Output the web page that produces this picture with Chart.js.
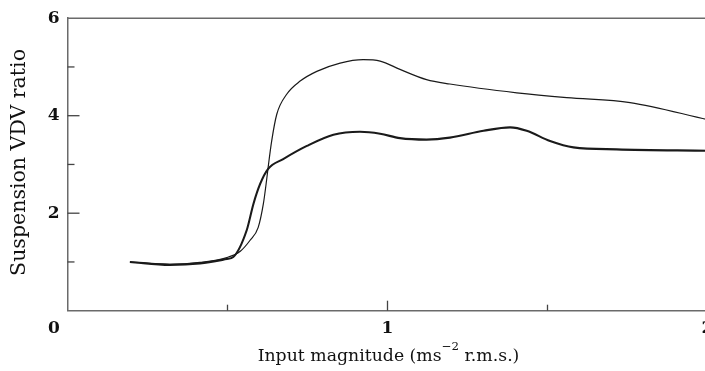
<!DOCTYPE html>
<html><head><meta charset="utf-8">
<script src="https://cdn.jsdelivr.net/npm/chart.js@4/dist/chart.umd.min.js"></script>
<style>html,body{margin:0;padding:0;overflow:hidden;background:#fff;width:705px;height:371px}</style>
</head><body>
<canvas id="c" width="730" height="371"></canvas>
<script>
// Thin curve
const thinX = [0.195, 0.32, 0.414, 0.498, 0.54, 0.57, 0.596, 0.612, 0.622, 0.627, 0.638, 0.654, 0.685, 0.727, 0.779, 0.852, 0.924, 0.977, 1.039, 1.122, 1.195, 1.404, 1.56, 1.758, 2.0];
const thinY = [1.00, 0.95, 0.99, 1.09, 1.22, 1.44, 1.71, 2.19, 2.67, 2.94, 3.48, 4.03, 4.44, 4.71, 4.91, 5.08, 5.15, 5.12, 4.95, 4.74, 4.65, 4.47, 4.37, 4.27, 3.92];
// Thick curve
const thickX = [0.195, 0.32, 0.414, 0.498, 0.518, 0.56, 0.581, 0.602, 0.627, 0.674, 0.748, 0.831, 0.914, 0.977, 1.039, 1.122, 1.195, 1.30, 1.383, 1.435, 1.508, 1.581, 1.716, 2.0];
const thickY = [1.00, 0.94, 0.97, 1.06, 1.10, 1.65, 2.19, 2.60, 2.91, 3.11, 3.38, 3.61, 3.67, 3.63, 3.54, 3.51, 3.55, 3.69, 3.76, 3.69, 3.48, 3.35, 3.31, 3.28];

const xLabelledTicks = [1, 2];
const yLabelledTicks = [2, 4, 6];
const xMajorTicks = [1];
const xMinorTicks = [0.5, 1.5];
const yMajorTicks = [2, 4];
const yMinorTicks = [1, 3, 5];
const cornerLabel = '0';
const xTitleParts = ['Input magnitude (ms', '\u22122', ' r.m.s.)'];
const yTitle = 'Suspension VDV ratio';

const TICK_FONT = '"DejaVu Serif", "Liberation Serif", serif';
const TITLE_FONT = '"DejaVu Serif", "Liberation Serif", serif';
const AXIS_COLOR = '#6a6a6a';

// choose title font sizes so the text spans the same length as in the reference
const mctx = document.createElement('canvas').getContext('2d');
function widthAt(size, parts) {
  let w = 0;
  parts.forEach((t, i) => { mctx.font = (i === 1 && parts.length === 3 ? size * 0.68 : size) + 'px ' + TITLE_FONT; w += mctx.measureText(t).width; });
  return w;
}
const yTitleSize = 20 * 227 / widthAt(20, [yTitle]);
const xTitleSize = 20 * 262 / widthAt(20, xTitleParts);

const toPts = (xs, ys) => xs.map((x, i) => ({x: x, y: ys[i]}));

const decor = {
  id: 'decor',
  afterDraw(chart) {
    const ctx = chart.ctx, a = chart.chartArea;
    const xs = chart.scales.x, ys = chart.scales.y;
    ctx.save();
    ctx.strokeStyle = AXIS_COLOR;
    ctx.lineWidth = 1.5;
    ctx.beginPath(); ctx.moveTo(a.left, a.top); ctx.lineTo(a.right + 5, a.top); ctx.stroke();
    ctx.strokeStyle = '#444';
    ctx.lineWidth = 1.3;
    const yAxisX = a.left, xAxisY = a.bottom;
    yMajorTicks.forEach(v => { const p = ys.getPixelForValue(v); ctx.beginPath(); ctx.moveTo(yAxisX, p); ctx.lineTo(yAxisX + 12, p); ctx.stroke(); });
    yMinorTicks.forEach(v => { const p = ys.getPixelForValue(v); ctx.beginPath(); ctx.moveTo(yAxisX, p); ctx.lineTo(yAxisX + 7, p); ctx.stroke(); });
    xMajorTicks.forEach(v => { const p = xs.getPixelForValue(v); ctx.beginPath(); ctx.moveTo(p, xAxisY); ctx.lineTo(p, xAxisY - 10); ctx.stroke(); });
    xMinorTicks.forEach(v => { const p = xs.getPixelForValue(v); ctx.beginPath(); ctx.moveTo(p, xAxisY); ctx.lineTo(p, xAxisY - 6); ctx.stroke(); });
    ctx.fillStyle = '#111';
    ctx.font = 'bold 17px ' + TICK_FONT;
    ctx.textAlign = 'center'; ctx.textBaseline = 'middle';
    ctx.fillText(cornerLabel, a.left - 13.5, xAxisY + 18);
    // y title (rotated)
    ctx.save();
    ctx.font = yTitleSize + 'px ' + TITLE_FONT;
    ctx.translate(25, (a.top + a.bottom) / 2 - 2);
    ctx.rotate(-Math.PI / 2);
    ctx.textAlign = 'center'; ctx.textBaseline = 'alphabetic';
    ctx.fillText(yTitle, 0, 0);
    ctx.restore();
    // x title with superscript
    const mainFont = xTitleSize + 'px ' + TITLE_FONT, supFont = (xTitleSize * 0.68) + 'px ' + TITLE_FONT;
    ctx.font = mainFont; const w1 = ctx.measureText(xTitleParts[0]).width;
    ctx.font = supFont; const w2 = ctx.measureText(xTitleParts[1]).width;
    ctx.font = mainFont; const w3 = ctx.measureText(xTitleParts[2]).width;
    const cx = (a.left + a.right) / 2 + 1;
    let x0 = cx - (w1 + w2 + w3) / 2;
    ctx.textAlign = 'left'; ctx.textBaseline = 'alphabetic';
    ctx.font = mainFont; ctx.fillText(xTitleParts[0], x0, 361);
    ctx.font = supFont; ctx.fillText(xTitleParts[1], x0 + w1, 350);
    ctx.font = mainFont; ctx.fillText(xTitleParts[2], x0 + w1 + w2, 361);
    ctx.restore();
  }
};

new Chart(document.getElementById('c'), {
  type: 'line',
  data: {
    datasets: [
      { data: toPts(thinX, thinY), borderColor: '#1a1a1a', borderWidth: 1.2, pointRadius: 0, cubicInterpolationMode: 'monotone', fill: false },
      { data: toPts(thickX, thickY), borderColor: '#1a1a1a', borderWidth: 2.1, pointRadius: 0, cubicInterpolationMode: 'monotone', fill: false }
    ]
  },
  options: {
    responsive: false,
    animation: false,
    devicePixelRatio: 1,
    layout: { padding: { top: 17, left: 0, right: 22.5, bottom: 0 } },
    plugins: { legend: { display: false }, tooltip: { enabled: false } },
    scales: {
      x: {
        type: 'linear', min: 0, max: 2,
        grid: { display: false, drawTicks: false },
        border: { display: true, color: AXIS_COLOR, width: 1.5 },
        ticks: {
          stepSize: 0.5, autoSkip: false, maxRotation: 0, padding: 8,
          color: '#111', font: { family: TICK_FONT, size: 17, weight: 'bold' },
          callback: v => xLabelledTicks.includes(v) ? String(v) : ''
        },
        afterFit: s => { s.height = 371 - 310.7; }
      },
      y: {
        type: 'linear', min: 0, max: 6,
        grid: { display: false, drawTicks: false },
        border: { display: true, color: AXIS_COLOR, width: 1.5 },
        ticks: {
          stepSize: 1, autoSkip: false, padding: 8,
          color: '#111', font: { family: TICK_FONT, size: 17, weight: 'bold' },
          callback: v => yLabelledTicks.includes(v) ? String(v) : ''
        },
        afterFit: s => { s.width = 67.5; }
      }
    }
  },
  plugins: [decor]
});
</script>
</body></html>
